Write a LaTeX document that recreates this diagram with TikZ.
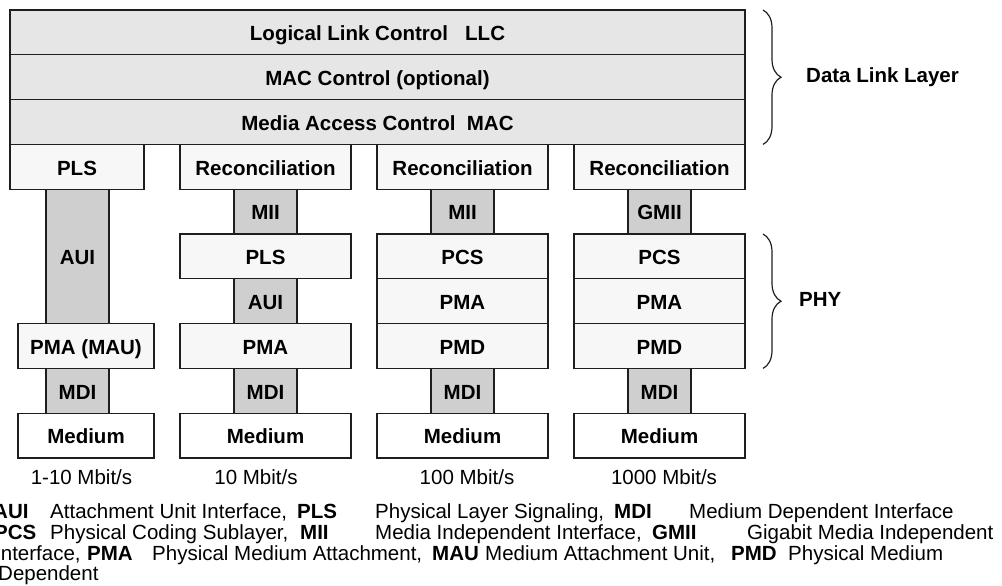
\documentclass[tikz,border=0pt]{standalone}
\usepackage{fontspec}
\setmainfont{Liberation Sans}
\usetikzlibrary{decorations.pathreplacing}

\definecolor{dllfill}{HTML}{E6E6E6}
\definecolor{layerfill}{HTML}{F7F7F7}
\definecolor{iffill}{HTML}{CFCFCF}
\definecolor{edgecol}{HTML}{1E1E1E}

% \blk{name}{style}{x1}{y1}{x2}{y2}{text}: a box given by two corners
\newcommand\blk[7]{\node[#2, minimum width={#5-#3}, minimum height={#6-#4}] (#1) at ({(#3+#5)/2},{(#4+#6)/2}) {#7};}

\begin{document}
\begin{tikzpicture}[x=1pt,y=-1pt,
  box/.style={draw=edgecol, line width=1.3pt, inner sep=0pt,
    text height=16.7pt, text depth=0pt,
    font=\fontsize{20.5}{24}\selectfont\bfseries},
  dll/.style={box, fill=dllfill},
  layer/.style={box, fill=layerfill},
  iface/.style={box, fill=iffill},
  medium/.style={box, fill=white},
  note/.style={font=\fontsize{20.5}{20.5}\selectfont, anchor=base west, inner sep=0pt},
  speed/.style={font=\fontsize{20.5}{20.5}\selectfont, anchor=base, inner sep=0pt},
  side/.style={font=\fontsize{20.5}{24}\selectfont\bfseries, anchor=west, inner sep=0pt},
  curly/.style={draw=edgecol, line width=1.2pt, decorate,
    decoration={brace, amplitude=18pt}}]
\useasboundingbox (0,0) rectangle (1002,586);

% Data link layer
\blk{llc}{dll}{10}{10}{745}{54.8}{Logical Link Control~~~LLC}
\blk{macc}{dll}{10}{54.8}{745}{99.6}{MAC Control (optional)}
\blk{mac}{dll}{10}{99.6}{745}{144.4}{Media Access Control~~MAC}

% 1-10 Mbit/s
\blk{plsA}{layer}{10}{144.4}{144}{189.2}{PLS}
\blk{auiA}{iface}{46}{189.2}{109}{323.6}{AUI}
\blk{pmaA}{layer}{18}{323.6}{154}{368.4}{PMA (MAU)}
\blk{mdiA}{iface}{46}{368.4}{109}{413.2}{MDI}
\blk{medA}{medium}{18}{413.2}{154}{458}{Medium}

% 10 Mbit/s
\blk{recB}{layer}{180}{144.4}{351}{189.2}{Reconciliation}
\blk{miiB}{iface}{234}{189.2}{297}{234}{MII}
\blk{plsB}{layer}{180}{234}{351}{278.8}{PLS}
\blk{auiB}{iface}{234}{278.8}{297}{323.6}{AUI}
\blk{pmaB}{layer}{180}{323.6}{351}{368.4}{PMA}
\blk{mdiB}{iface}{234}{368.4}{297}{413.2}{MDI}
\blk{medB}{medium}{180}{413.2}{351}{458}{Medium}

% 100 Mbit/s
\blk{recC}{layer}{377}{144.4}{548}{189.2}{Reconciliation}
\blk{miiC}{iface}{431}{189.2}{494}{234}{MII}
\blk{pcsC}{layer}{377}{234}{548}{278.8}{PCS}
\blk{pmaC}{layer}{377}{278.8}{548}{323.6}{PMA}
\blk{pmdC}{layer}{377}{323.6}{548}{368.4}{PMD}
\blk{mdiC}{iface}{431}{368.4}{494}{413.2}{MDI}
\blk{medC}{medium}{377}{413.2}{548}{458}{Medium}

% 1000 Mbit/s
\blk{recD}{layer}{574}{144.4}{745}{189.2}{Reconciliation}
\blk{gmiiD}{iface}{628}{189.2}{691}{234}{GMII}
\blk{pcsD}{layer}{574}{234}{745}{278.8}{PCS}
\blk{pmaD}{layer}{574}{278.8}{745}{323.6}{PMA}
\blk{pmdD}{layer}{574}{323.6}{745}{368.4}{PMD}
\blk{mdiD}{iface}{628}{368.4}{691}{413.2}{MDI}
\blk{medD}{medium}{574}{413.2}{745}{458}{Medium}

% rates
\node[speed] (sA) at (81.5,484) {1-10 Mbit/s};
\node[speed] (sB) at (256,484) {10 Mbit/s};
\node[speed] (sC) at (467,484) {100 Mbit/s};
\node[speed] (sD) at (664,484) {1000 Mbit/s};

% braces
\coordinate (dlTop) at (763,10);
\coordinate (dlBot) at (763,144.4);
\coordinate (phyTop) at (763,234);
\coordinate (phyBot) at (763,368.4);
\draw[curly] (dlTop) -- (dlBot);
\draw[curly] (phyTop) -- (phyBot);
\node[side] (dl) at (806,77) {Data Link Layer};
\node[side] (phy) at (799,299) {PHY};

% abbreviations
\node[note] (k1a) at (-7,518.5) {\bfseries AUI};
\node[note] (k1b) at (50,518.5) {Attachment Unit Interface,};
\node[note] (k1c) at (297,518.5) {\bfseries PLS};
\node[note] (k1d) at (375,518.5) {Physical Layer Signaling,};
\node[note] (k1e) at (614,518.5) {\bfseries MDI};
\node[note] (k1f) at (689,518.5) {Medium Dependent Interface};

\node[note] (k2a) at (-6,539.2) {\bfseries PCS};
\node[note] (k2b) at (50,539.2) {Physical Coding Sublayer,};
\node[note] (k2c) at (300,539.2) {\bfseries MII};
\node[note] (k2d) at (375,539.2) {Media Independent Interface,};
\node[note] (k2e) at (652,539.2) {\bfseries GMII};
\node[note] (k2f) at (747,539.2) {Gigabit Media Independent};

\node[note] (k3a) at (-5,560) {Interface,};
\node[note] (k3b) at (87,560) {\bfseries PMA};
\node[note] (k3c) at (152,560) {Physical Medium Attachment,};
\node[note] (k3d) at (432,560) {\bfseries MAU};
\node[note] (k3e) at (485,560) {Medium Attachment Unit,};
\node[note] (k3f) at (731,560) {\bfseries PMD};
\node[note] (k3g) at (788,560) {Physical Medium};

\node[note] (k4a) at (-2,580.7) {Dependent};
\end{tikzpicture}
\end{document}
